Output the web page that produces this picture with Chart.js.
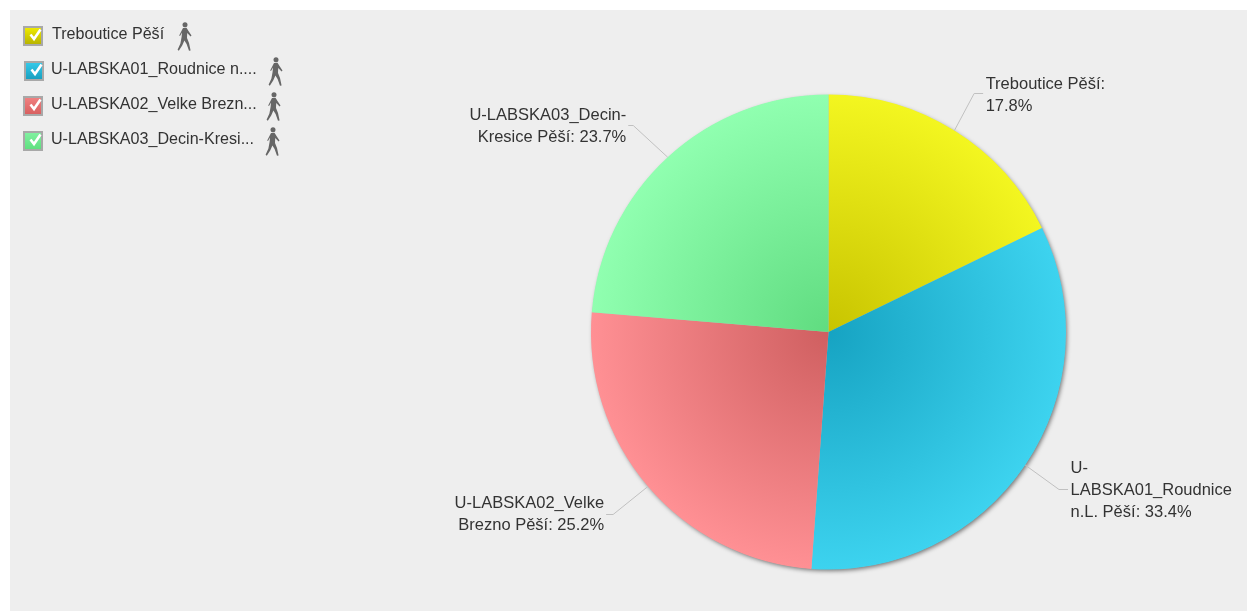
<!DOCTYPE html>
<html><head><meta charset="utf-8">
<script src="https://cdn.jsdelivr.net/npm/chart.js@4"></script>
<style>
html,body{margin:0;padding:0;background:#fff;width:1247px;height:611px;overflow:hidden}
#panel{position:absolute;left:10px;top:10px;width:1237px;height:601px;background:#eeeeee}
canvas{position:absolute;left:0;top:0}
.row{position:absolute;font:16.1px "Liberation Sans",Arial,sans-serif;color:#333;white-space:nowrap;line-height:20px}
.box{position:absolute;width:16px;height:16px;border:2px solid #a8a8a8}
svg{position:absolute;overflow:visible}
</style></head><body>
<div id="panel"><canvas id="c" width="1237" height="601"></canvas></div>
<div id="legend"></div>
<script>
const categories = ["Treboutice Pěší","U-LABSKA01_Roudnice n.L. Pěší","U-LABSKA02_Velke Brezno Pěší","U-LABSKA03_Decin-Kresice Pěší"];
const percentValues = [17.8,33.4,25.2,23.7];
const legendLabels = ["Treboutice Pěší","U-LABSKA01_Roudnice n....","U-LABSKA02_Velke Brezn...","U-LABSKA03_Decin-Kresi..."];
const sliceLabelLines = [["Treboutice Pěší:","17.8%"],["U-","LABSKA01_Roudnice","n.L. Pěší: 33.4%"],["U-LABSKA02_Velke","Brezno Pěší: 25.2%"],["U-LABSKA03_Decin-","Kresice Pěší: 23.7%"]];
const innerColors = ["#c8c400","#16a3c2","#cf5f60","#60dc80"];
const outerColors = ["#f3f620","#3dd3ef","#ff9094","#90ffb0"];
const boxTop = ["#eeea00","#35c8e8","#f08080","#80f0a0"];
const boxBottom = ["#b8b400","#18a0c0","#d86060","#60e080"];

const legendLayout = [[23,52,177,22],[24,51,268,57],[23,51,266,92],[23,51,265,127]];
const legendRowTop = [24,59,94,129];
const elbowNudge = [[-2.5,-1.5],[-1,0],[-3,0],[-6,-1]];
const elbowRun = [9,9,7,5];
const textDy = [2,1,0,1];
const walker = '<circle cx="8" cy="2.8" r="2.5" fill="#666"/><path d="M6 6 L9.5 5.8 L11.5 9 L14.5 13.5 L13.6 14.4 L10.2 11 L10 16 L12 21 L13.6 28.5 L12 28.8 L9.6 22 L7.4 18.5 L5.2 23.5 L1.8 28.8 L0.6 27.8 L3.4 21.5 L4.6 15 L5 10.5 L3 14 L2.2 13.4 Z" fill="#666"/>';
const lg = document.getElementById("legend");
legendLabels.forEach((t,i)=>{
  const L = legendLayout[i], top = legendRowTop[i];
  const h = `<div class="box" style="left:${L[0]}px;top:${top+2}px;background:linear-gradient(${boxTop[i]},${boxBottom[i]})"></div>
  <svg style="left:${L[0]}px;top:${top+2}px" width="20" height="20"><path d="M7.5 8.5 L11 13 L17.5 3.5" fill="none" stroke="#fff" stroke-width="2.6"/></svg>
  <div class="row" style="left:${L[1]}px;top:${top-1}px">${t}</div>
  <svg style="left:${L[2]}px;top:${L[3]}px;filter:blur(0.35px)" width="16" height="30">${walker}</svg>`;
  lg.insertAdjacentHTML("beforeend",h);
});

function fill(ctx){
  const area = ctx.chart.chartArea;
  if(!area) return outerColors[ctx.dataIndex];
  const cx=(area.left+area.right)/2, cy=(area.top+area.bottom)/2, r=Math.min(area.width,area.height)/2;
  const g = ctx.chart.ctx.createRadialGradient(cx,cy,0,cx,cy,r);
  g.addColorStop(0,innerColors[ctx.dataIndex]);
  g.addColorStop(1,outerColors[ctx.dataIndex]);
  return g;
}
const pieShadow = {id:"pieShadow",beforeDatasetsDraw(chart){
  const a = chart.getDatasetMeta(0).data[0], c = chart.ctx;
  c.save(); c.shadowColor="rgba(0,0,0,0.5)"; c.shadowBlur=4; c.shadowOffsetX=1.5; c.shadowOffsetY=2;
  c.fillStyle="#bbb"; c.beginPath(); c.arc(a.x,a.y,a.outerRadius-0.5,0,Math.PI*2); c.fill(); c.restore();
}};
const sliceLabels = {id:"sliceLabels",afterDatasetsDraw(chart){
  const c = chart.ctx;
  chart.getDatasetMeta(0).data.forEach((a,i)=>{
    const mid=(a.startAngle+a.endAngle)/2, cos=Math.cos(mid), sin=Math.sin(mid), R=a.outerRadius;
    const right=cos>=0;
    const ex=a.x+(R+42)*cos+elbowNudge[i][0], ey=Math.round(a.y+(R+42)*sin+elbowNudge[i][1])+0.5, hx=ex+(right?elbowRun[i]:-elbowRun[i]);
    c.save();
    c.strokeStyle="#c0c0c0"; c.lineWidth=1;
    c.beginPath(); c.moveTo(a.x+R*cos,a.y+R*sin); c.lineTo(ex,ey); c.lineTo(hx,ey); c.stroke();
    c.fillStyle="#333"; c.font='16.5px "Liberation Sans",Arial,sans-serif';
    c.textAlign=right?"left":"right"; c.textBaseline="middle";
    const L=sliceLabelLines[i], lh=22, y0=ey-(L.length-1)*lh/2+textDy[i];
    L.forEach((t,k)=>c.fillText(t,hx+(right?2.5:-2),y0+k*lh));
    c.restore();
  });
}};
new Chart(document.getElementById("c"),{
  type:"pie",
  data:{labels:categories,datasets:[{data:percentValues,backgroundColor:fill,borderWidth:0,hoverOffset:0}]},
  options:{responsive:false,animation:false,
    layout:{padding:{left:581,right:181,top:84,bottom:41}},
    plugins:{legend:{display:false},tooltip:{enabled:false}}},
  plugins:[pieShadow,sliceLabels]
});
</script></body></html>
